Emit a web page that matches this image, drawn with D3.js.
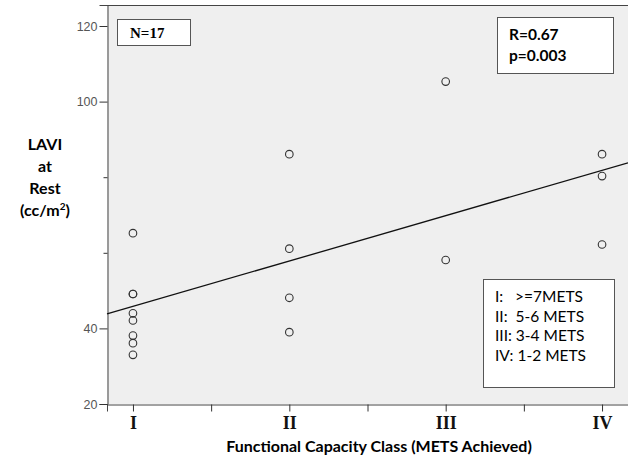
<!DOCTYPE html>
<html>
<head>
<meta charset="utf-8">
<script src="https://cdn.jsdelivr.net/npm/d3@7"></script>
<style>
  body { margin: 0; background: #fff; }
  svg { display: block; }
</style>
</head>
<body>
<script>
// classes on x (1..4), LAVI at rest on y
var classLabels = ["I", "II", "III", "IV"];
var classX = [1, 1, 1, 1, 1, 1, 1, 1, 2, 2, 2, 2, 3, 3, 4, 4, 4];
var laviY = [65.2, 49.1, 49.1, 44.0, 42.1, 38.1, 36.1, 33.0,
             86.1, 61.1, 48.1, 39.0,
             105.3, 58.1,
             86.1, 80.3, 62.2];
var yTickLabels = [20, 40, 100, 120];
var yTicksNoLabel = [60, 80];
var legendLines = ["I:   >=7METS", "II:  5-6 METS", "III: 3-4 METS", "IV: 1-2 METS"];
var statLines = ["R=0.67", "p=0.003"];

var W = 628, H = 461;
var pLeft = 107, pRight = 628, pTop = 5, pBottom = 404;

var svg = d3.select("body").append("svg")
    .attr("width", W)
    .attr("height", H);

var x = d3.scaleLinear().domain([0.834, 4.166]).range([pLeft, pRight]);
var y = d3.scaleLinear().domain([20, 20 + (pBottom - pTop) / 3.78]).range([pBottom, pTop]);

// plot background
svg.append("rect")
    .attr("x", pLeft).attr("y", pTop)
    .attr("width", pRight - pLeft).attr("height", pBottom - pTop)
    .attr("fill", "#efefef");
svg.append("line")
    .attr("x1", pLeft).attr("x2", pRight)
    .attr("y1", pTop + 0.5).attr("y2", pTop + 0.5)
    .attr("stroke", "#444");

// y axis
var yAxis = svg.append("g")
    .attr("transform", "translate(" + (pLeft + 0.5) + ",0)")
    .call(d3.axisLeft(y).tickValues(yTickLabels).tickSize(8).tickPadding(2));
yAxis.select(".domain").attr("stroke", "#444");
yAxis.selectAll(".tick line").attr("stroke", "#333");
yAxis.selectAll("text")
    .attr("fill", "#555")
    .style("font-family", "Liberation Sans, Arial, sans-serif")
    .style("font-size", "12.5px");
svg.append("g")
    .attr("transform", "translate(" + (pLeft + 0.5) + ",0)")
    .call(d3.axisLeft(y).tickValues(yTicksNoLabel).tickSize(4).tickFormat(""))
    .call(function(g) { g.select(".domain").remove(); })
    .selectAll(".tick line").attr("stroke", "#333");

// x axis
var xAxis = svg.append("g")
    .attr("transform", "translate(0," + (pBottom + 0.5) + ")")
    .call(d3.axisBottom(x).tickValues([1, 1.5, 2, 2.5, 3, 3.5, 4]).tickSize(7)
        .tickFormat(function(d) { return Number.isInteger(d) ? classLabels[d - 1] : ""; })
        .tickPadding(5));
xAxis.select(".domain").attr("stroke", "#444");
xAxis.selectAll(".tick line").attr("stroke", "#333");
xAxis.selectAll("text")
    .attr("fill", "#111")
    .style("font-family", "Liberation Serif, Times New Roman, serif")
    .style("font-weight", "bold")
    .style("font-size", "18px");

// regression line (least squares from the points)
var mx = d3.mean(classX), my = d3.mean(laviY);
var sxy = d3.sum(classX, function(d, i) { return (d - mx) * (laviY[i] - my); });
var sxx = d3.sum(classX, function(d) { return (d - mx) * (d - mx); });
var slope = sxy / sxx, icpt = my - slope * mx;
var xd = x.domain();
svg.append("line")
    .attr("x1", x(xd[0])).attr("y1", y(icpt + slope * xd[0]))
    .attr("x2", x(xd[1])).attr("y2", y(icpt + slope * xd[1]))
    .attr("stroke", "#111")
    .attr("stroke-width", 1.3);

// points
svg.selectAll("circle.pt")
    .data(laviY)
    .enter().append("circle")
    .attr("class", "pt")
    .attr("cx", function(d, i) { return x(classX[i]); })
    .attr("cy", function(d) { return y(d); })
    .attr("r", 3.8)
    .attr("fill", "none")
    .attr("stroke", "#333")
    .attr("stroke-width", 1.1);

// N box
svg.append("rect")
    .attr("x", 117.5).attr("y", 19.5).attr("width", 73).attr("height", 26)
    .attr("fill", "#fff").attr("stroke", "#555");
svg.append("text")
    .attr("x", 130).attr("y", 38)
    .style("font-family", "Liberation Serif, Times New Roman, serif")
    .style("font-weight", "bold")
    .style("font-size", "15px")
    .text("N=17");

// stats box
svg.append("rect")
    .attr("x", 497.5).attr("y", 17.5).attr("width", 116).attr("height", 56)
    .attr("fill", "#fff").attr("stroke", "#555");
svg.selectAll("text.stat")
    .data(statLines)
    .enter().append("text")
    .attr("class", "stat")
    .attr("x", 509)
    .attr("y", function(d, i) { return 40 + i * 21; })
    .style("font-family", "Lato, sans-serif")
    .style("font-weight", "bold")
    .style("font-size", "15.5px")
    .text(function(d) { return d; });

// legend box
svg.append("rect")
    .attr("x", 483.5).attr("y", 279.5).attr("width", 131).attr("height", 108)
    .attr("fill", "#fff").attr("stroke", "#555");
svg.selectAll("text.leg")
    .data(legendLines)
    .enter().append("text")
    .attr("class", "leg")
    .attr("x", 495)
    .attr("y", function(d, i) { return 302 + i * 19.7; })
    .attr("xml:space", "preserve")
    .style("white-space", "pre")
    .style("font-family", "Lato, sans-serif")
    .style("font-size", "15.5px")
    .text(function(d) { return d; });

// y title
var yTitle = svg.append("text")
    .attr("text-anchor", "middle")
    .style("font-family", "Lato, sans-serif")
    .style("font-weight", "bold")
    .style("font-size", "16px");
["LAVI", "at", "Rest"].forEach(function(t, i) {
    yTitle.append("tspan").attr("x", 45).attr("y", 150 + i * 22).text(t);
});
var last = yTitle.append("tspan").attr("x", 45).attr("y", 216).text("(cc/m");
last.append("tspan").attr("dy", -6).style("font-size", "10px").text("2");
last.append("tspan").attr("dy", 6).text(")");

// x title
svg.append("text")
    .attr("x", 379).attr("y", 452)
    .attr("text-anchor", "middle")
    .style("font-family", "Lato, sans-serif")
    .style("font-weight", "bold")
    .style("font-size", "16px")
    .text("Functional Capacity Class (METS Achieved)");
</script>
</body>
</html>
